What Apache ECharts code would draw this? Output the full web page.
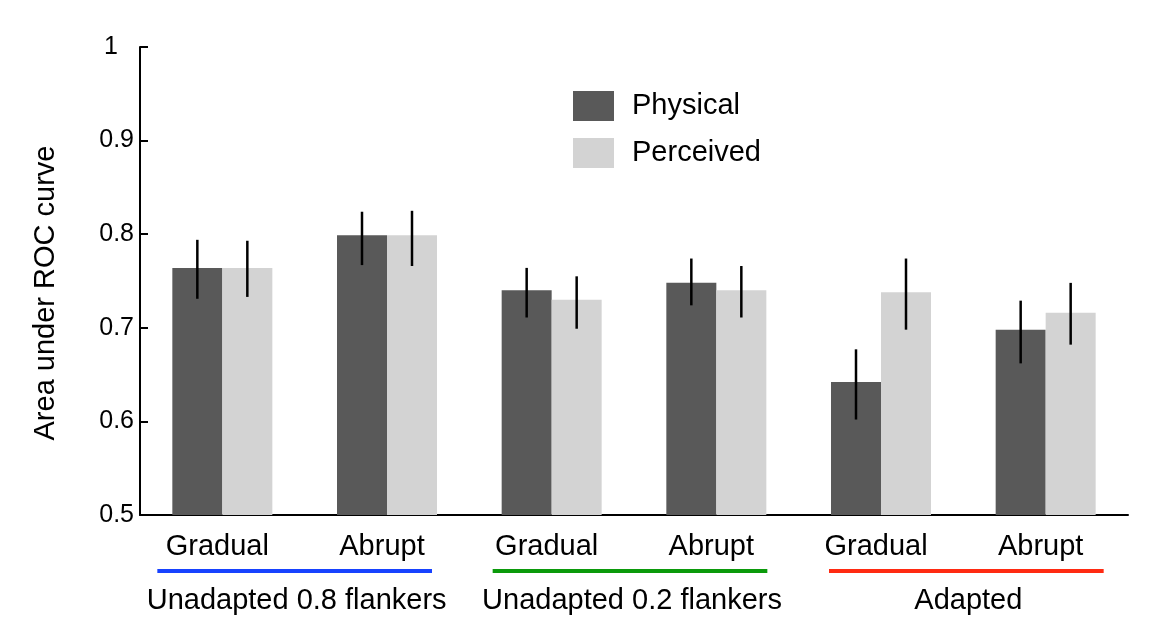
<!DOCTYPE html>
<html>
<head>
<meta charset="utf-8">
<script src="https://cdn.jsdelivr.net/npm/echarts@6/dist/echarts.min.js"></script>
<style>
html,body{margin:0;padding:0;background:#fff;}
#chart{width:1153px;height:628px;}
</style>
</head>
<body>
<div id="chart"></div>
<script>
const categories = ['Gradual', 'Abrupt', 'Gradual', 'Abrupt', 'Gradual', 'Abrupt'];
const groupNames = ['Unadapted 0.8 flankers', 'Unadapted 0.2 flankers', 'Adapted'];
const groupColors = ['#1742ff', '#0b9a0b', '#ff2a12'];
const yTicks = [0.5, 0.6, 0.7, 0.8, 0.9, 1];

const physical      = [0.764, 0.799, 0.740, 0.748, 0.642, 0.698];
const physicalLow   = [0.731, 0.767, 0.711, 0.724, 0.602, 0.662];
const physicalHigh  = [0.794, 0.824, 0.764, 0.774, 0.677, 0.729];
const perceived     = [0.764, 0.799, 0.730, 0.740, 0.738, 0.716];
const perceivedLow  = [0.733, 0.766, 0.699, 0.711, 0.698, 0.682];
const perceivedHigh = [0.793, 0.825, 0.755, 0.766, 0.774, 0.748];

const FONT = '"Liberation Sans", Arial, Helvetica, sans-serif';
const BAR_W = 50;

function errData(lo, hi) { return lo.map((l, i) => [i, l, hi[i]]); }
function errRender(offset) {
  return function (params, api) {
    const p1 = api.coord([api.value(0), api.value(1)]);
    const p2 = api.coord([api.value(0), api.value(2)]);
    return {
      type: 'line',
      shape: { x1: p1[0] + offset, y1: p1[1], x2: p2[0] + offset, y2: p2[1] },
      style: { stroke: '#000', lineWidth: 2.5 }
    };
  };
}

const chart = echarts.init(document.getElementById('chart'), null, { renderer: 'canvas' });
const option = {
  animation: false,
  backgroundColor: '#fff',
  textStyle: { fontFamily: FONT },
  grid: { left: 140, right: 25, top: 47, bottom: 113, containLabel: false },
  legend: {
    orient: 'vertical', left: 573, top: 91, padding: 0,
    itemWidth: 41, itemHeight: 30, itemGap: 17, icon: 'rect',
    data: ['Physical', 'Perceived'],
    textStyle: { fontFamily: FONT, fontSize: 29, color: '#000', padding: [2, 0, 0, 13] }
  },
  xAxis: {
    type: 'category', data: categories, position: 'bottom',
    axisLine: { lineStyle: { color: '#000', width: 2 } },
    axisTick: { show: false },
    axisLabel: { fontFamily: FONT, fontSize: 29, color: '#000', margin: 17, interval: 0,
                 padding: [0, 10, 0, 0] },
    splitLine: { show: false }
  },
  yAxis: {
    type: 'value', min: yTicks[0], max: yTicks[yTicks.length - 1], interval: 0.1,
    name: 'Area under ROC curve', nameLocation: 'middle', nameGap: 80, nameRotate: 90,
    nameTextStyle: { fontFamily: FONT, fontSize: 29, color: '#000', padding: [0, 24, 0, 0] },
    axisLine: { show: true, lineStyle: { color: '#000', width: 2 } },
    axisTick: { show: true, inside: true, length: 8, lineStyle: { color: '#000', width: 2 } },
    axisLabel: { fontFamily: FONT, fontSize: 25, color: '#000', margin: 6,
                 formatter: v => (v === 1 ? '1' : v.toFixed(1)),
                 padding: [0, 0, 0, 0] },
    splitLine: { show: false }
  },
  series: [
    { name: 'Physical', type: 'bar', data: physical, barWidth: BAR_W, barGap: '0%',
      itemStyle: { color: '#595959' }, z: 2 },
    { name: 'Perceived', type: 'bar', data: perceived, barWidth: BAR_W, barGap: '0%',
      itemStyle: { color: '#d3d3d3' }, z: 2 },
    { name: 'PhysicalErr', type: 'custom', data: errData(physicalLow, physicalHigh),
      renderItem: errRender(-BAR_W / 2), encode: { x: 0, y: [1, 2] }, z: 5, silent: true },
    { name: 'PerceivedErr', type: 'custom', data: errData(perceivedLow, perceivedHigh),
      renderItem: errRender(BAR_W / 2), encode: { x: 0, y: [1, 2] }, z: 5, silent: true }
  ]
};
chart.setOption(option);

// Top tick label "1" sits further left in the reference
chart.setOption({
  yAxis: {
    axisLabel: {
      formatter: v => (v === 1 ? '{one|1}' : v.toFixed(1)),
      rich: { one: { fontFamily: FONT, fontSize: 25, color: '#000', padding: [0, 16, 0, 0] } }
    }
  }
});

// Coloured group underlines and group names, positioned from the category axis
const lineY = 571;
const textY = 601;
const leftPad = [65, 59, 52];
const rightPad = [45, 51, 58];
const graphics = [];
groupNames.forEach((g, gi) => {
  const xl = chart.convertToPixel({ xAxisIndex: 0 }, 2 * gi) - leftPad[gi];
  const xr = chart.convertToPixel({ xAxisIndex: 0 }, 2 * gi + 1) + rightPad[gi];
  graphics.push({
    type: 'line',
    shape: { x1: xl, y1: lineY, x2: xr, y2: lineY },
    style: { stroke: groupColors[gi], lineWidth: 4 }
  });
  graphics.push({
    type: 'text',
    x: (xl + xr) / 2 + 2, y: textY,
    style: { text: g, fontFamily: FONT, fontSize: 29, fill: '#000',
             textAlign: 'center', textVerticalAlign: 'middle' }
  });
});
chart.setOption({ graphic: graphics });
</script>
</body>
</html>
